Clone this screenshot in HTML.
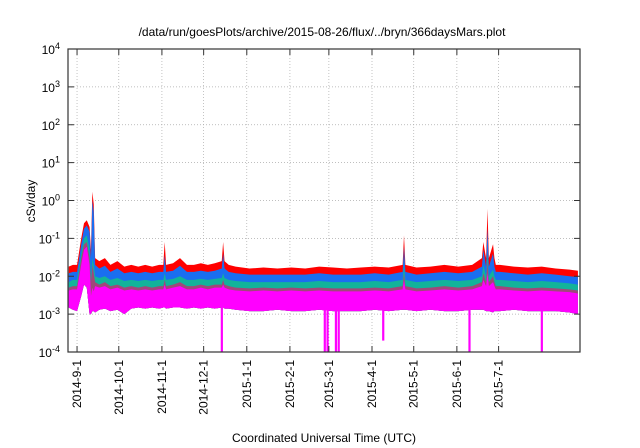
<!DOCTYPE html>
<html><head><meta charset="utf-8"><style>
body{margin:0;background:#fff;width:640px;height:448px;overflow:hidden}
svg{display:block;font-family:"Liberation Sans",Helvetica,sans-serif}
</style></head><body>
<svg id="chart" width="640" height="448">
<text x="322" y="36" font-size="12" text-anchor="middle">/data/run/goesPlots/archive/2015-08-26/flux/../bryn/366daysMars.plot</text>
<text x="324" y="442" font-size="12" text-anchor="middle">Coordinated Universal Time (UTC)</text>
<text transform="translate(35,201) rotate(-90)" font-size="12" text-anchor="middle">cSv/day</text>
<g id="grid"></g><g id="series"></g><g id="axes"></g>
</svg>
<script>
const days=[0,3,6,9,11,13,15,16,17,18,19,22,26,30,35,40,45,50,55,60,65,68,69,70,75,80,85,90,95,100,105,110,111,112,115,120,130,140,150,160,170,180,190,200,210,220,230,240,241,242,250,260,270,280,290,297,298,300,301,302,305,306,307,310,320,330,340,350,360,366];
const redTop=[0.018,0.02,0.02,0.1,0.25,0.3,0.2,0.05,1.7,0.8,0.03,0.025,0.03,0.02,0.025,0.018,0.02,0.018,0.02,0.018,0.02,0.02,0.08,0.02,0.022,0.03,0.02,0.02,0.022,0.02,0.022,0.025,0.08,0.025,0.02,0.018,0.016,0.017,0.016,0.017,0.016,0.018,0.017,0.016,0.017,0.018,0.017,0.02,0.12,0.02,0.017,0.018,0.02,0.018,0.02,0.03,0.08,0.03,0.6,0.03,0.07,0.03,0.02,0.02,0.018,0.017,0.018,0.016,0.015,0.014];
const blueTop=[0.012,0.013,0.013,0.07,0.18,0.22,0.15,0.03,1.0,0.5,0.02,0.016,0.019,0.013,0.016,0.012,0.013,0.012,0.013,0.012,0.013,0.013,0.035,0.013,0.014,0.019,0.013,0.013,0.014,0.013,0.014,0.016,0.04,0.016,0.013,0.012,0.011,0.011,0.011,0.011,0.011,0.012,0.011,0.011,0.011,0.012,0.011,0.013,0.06,0.013,0.011,0.012,0.013,0.012,0.013,0.018,0.05,0.018,0.18,0.018,0.04,0.018,0.013,0.013,0.012,0.011,0.012,0.011,0.01,0.0095];
const tealTop=[0.007,0.008,0.008,0.04,0.1,0.12,0.05,0.01,0.03,0.02,0.01,0.009,0.01,0.008,0.009,0.0075,0.008,0.0075,0.008,0.0075,0.008,0.008,0.012,0.008,0.0085,0.01,0.008,0.008,0.0085,0.008,0.0085,0.009,0.012,0.009,0.008,0.0075,0.007,0.007,0.007,0.007,0.007,0.0075,0.007,0.007,0.007,0.0075,0.007,0.008,0.02,0.008,0.007,0.0075,0.008,0.0075,0.008,0.01,0.02,0.01,0.04,0.01,0.015,0.01,0.008,0.008,0.0075,0.007,0.0075,0.007,0.0065,0.006];
const purpleTop=[0.005,0.0055,0.0055,0.03,0.07,0.08,0.03,0.007,0.02,0.012,0.007,0.006,0.007,0.0055,0.006,0.005,0.0055,0.005,0.0055,0.005,0.0055,0.0055,0.008,0.0055,0.006,0.007,0.0055,0.0055,0.006,0.0055,0.006,0.006,0.008,0.006,0.0055,0.005,0.0048,0.005,0.0048,0.005,0.0048,0.005,0.0048,0.0048,0.0048,0.005,0.0048,0.0055,0.012,0.0055,0.0048,0.005,0.0055,0.005,0.0055,0.007,0.012,0.007,0.025,0.007,0.01,0.007,0.0055,0.0055,0.005,0.0048,0.005,0.0048,0.0045,0.0042];
const magentaTop=[0.0042,0.0045,0.0045,0.02,0.05,0.06,0.02,0.003,0.005,0.004,0.0055,0.005,0.0055,0.0045,0.005,0.0042,0.0045,0.0042,0.0045,0.0042,0.0045,0.0045,0.006,0.0045,0.005,0.0055,0.0045,0.0045,0.005,0.0045,0.005,0.005,0.006,0.005,0.0045,0.0042,0.004,0.0042,0.004,0.0042,0.004,0.0042,0.004,0.004,0.004,0.0042,0.004,0.0045,0.008,0.0045,0.004,0.0042,0.0045,0.0042,0.0045,0.0055,0.008,0.0055,0.012,0.0055,0.007,0.0055,0.0045,0.0045,0.0042,0.004,0.0042,0.004,0.0038,0.0035];
const magentaBottom=[0.0015,0.0013,0.0012,0.003,0.006,0.005,0.001,0.001,0.0012,0.0012,0.0011,0.0013,0.0014,0.0012,0.0013,0.001,0.0014,0.0015,0.0014,0.0015,0.0014,0.0015,0.0015,0.0014,0.0015,0.0015,0.0014,0.0015,0.0014,0.0015,0.0014,0.0015,0.0015,0.0014,0.0014,0.0013,0.0012,0.0012,0.0013,0.0012,0.0012,0.0013,0.0012,0.0012,0.0012,0.0013,0.0012,0.0013,0.0013,0.0013,0.0012,0.0013,0.0012,0.0012,0.0013,0.0013,0.0013,0.0012,0.0012,0.0012,0.0011,0.0012,0.0012,0.0012,0.0013,0.0012,0.0012,0.0012,0.0011,0.0010];
const dropDays=[110,184,186,192,194,226,288,340];
const dropMin=[0.0001,0.0001,0.0001,0.0001,0.0001,0.0002,0.0001,0.0001];
const monthDays=[6,36,67,97,128,159,187,218,248,279,309];
const monthLabels=["2014-9-1","2014-10-1","2014-11-1","2014-12-1","2015-1-1","2015-2-1","2015-3-1","2015-4-1","2015-5-1","2015-6-1","2015-7-1"];
const yExps=[-4,-3,-2,-1,0,1,2,3,4];

const L=68,R=580,T=49,B=352,NS="http://www.w3.org/2000/svg";
const xS=d=>L+(d+0.5)*(R-L)/368;
const yS=v=>B-(Math.log10(v)+4)*(B-T)/8;
function mk(tag,attrs,parent){const e=document.createElementNS(NS,tag);for(const k in attrs)e.setAttribute(k,attrs[k]);parent.appendChild(e);return e;}
const grid=document.getElementById('grid'),ser=document.getElementById('series'),ax=document.getElementById('axes');
yExps.forEach(p=>{const y=yS(Math.pow(10,p));
 if(p>-4&&p<4){const g=mk('line',{x1:L,x2:R,y1:y,y2:y,stroke:'#aaa','stroke-width':0.7,'stroke-dasharray':'1,2'},grid);
 
 }
 mk('line',{x1:L,x2:L+6,y1:y,y2:y,stroke:'#333'},ax);mk('line',{x1:R,x2:R-6,y1:y,y2:y,stroke:'#333'},ax);
 const t=mk('text',{x:60,y:y+5,'font-size':12,'text-anchor':'end'},ax);
 
 
 t.innerHTML='10<tspan dy="-5" font-size="9">'+p+'</tspan>';
});
monthDays.forEach((d,i)=>{const x=xS(d);
 const g=mk('line',{x1:x,x2:x,y1:T,y2:B,stroke:'#aaa','stroke-width':0.7,'stroke-dasharray':'1,2'},grid);
 
 
 mk('line',{x1:x,x2:x,y1:B,y2:B-6,stroke:'#333'},ax);mk('line',{x1:x,x2:x,y1:T,y2:T+6,stroke:'#333'},ax);
 const t=mk('text',{transform:`translate(${x+4},360) rotate(-90)`,'font-size':12,'text-anchor':'end'},ax);
 
 
 t.textContent=monthLabels[i];
});
function area(top,col,name){
 let pts=days.map((d,i)=>xS(d)+','+yS(top[i]));
 pts=pts.concat(days.slice().reverse().map((d,j)=>{const i=days.length-1-j;return xS(d)+','+yS(magentaBottom[i]);}));
 const p=mk('polygon',{points:pts.join(' '),fill:col},ser);
 
 
}
area(redTop,'#f00','series-red');
area(blueTop,'#1a6ef0','series-blue');
area(tealTop,'#12b39a','series-teal');
area(purpleTop,'#a0477a','series-purple');
area(magentaTop,'#f0f','series-magenta');
dropDays.forEach((d,i)=>{
 const l=mk('rect',{x:xS(d)-1,y:yS(0.003),width:2.2,height:yS(dropMin[i])-yS(0.003),fill:'#f0f'},ser);
 
 
});
const fr=mk('rect',{x:L,y:T,width:R-L,height:B-T,fill:'none',stroke:'#333','stroke-width':1.2},ax);


</script>
</body></html>
